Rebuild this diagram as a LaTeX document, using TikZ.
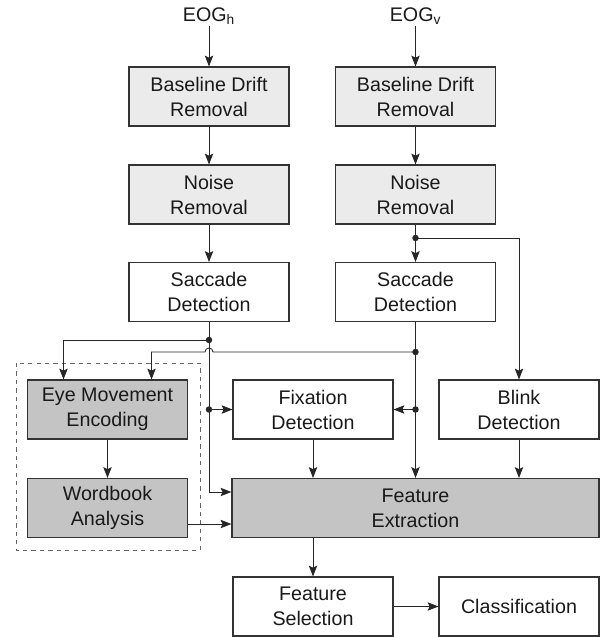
\documentclass[tikz,border=0pt]{standalone}
\usepackage{fontspec}
\setmainfont{Liberation Sans}
\usetikzlibrary{arrows.meta}

\begin{document}
\begin{tikzpicture}[
		x=0.025cm, y=-0.025cm,
		font=\fontsize{14}{17.8}\selectfont,
		box/.style={draw=black!80, line width=0.8pt, align=center, minimum width=4cm, minimum height=1.475cm, inner sep=0pt, text=black!90},
		light/.style={box, fill=black!8},
		dark/.style={box, fill=black!23},
		arr/.style={-{Stealth[length=2.7mm,width=2.1mm,inset=0.5mm]}, line width=0.6pt, draw=black!85},
		jdot/.style={fill=black!85}
	]
	\useasboundingbox (0,0) rectangle (606,637);

	\node[inner sep=1pt, text=black!90] (eogh) at (209,16) {EOG\textsubscript{h}};
	\node[inner sep=1pt, text=black!90] (eogv) at (415.5,16) {EOG\textsubscript{v}};

	\node[light] (bdh) at (209,96.5) {Baseline Drift\\Removal};
	\node[light] (bdv) at (415.5,96.5) {Baseline Drift\\Removal};
	\node[light] (nrh) at (209,194.5) {Noise\\Removal};
	\node[light] (nrv) at (415.5,194.5) {Noise\\Removal};
	\node[box] (sdh) at (209,292) {Saccade\\Detection};
	\node[box] (sdv) at (415.5,292) {Saccade\\Detection};

	\node[dark] (eme) at (107.5,409.5) {Eye Movement\\Encoding};
	\node[box] (fix) at (313,409.5) {Fixation\\Detection};
	\node[box] (blink) at (519,409.5) {Blink\\Detection};
	\node[dark] (wb) at (107.5,508) {Wordbook\\Analysis};
	\node[dark, minimum width=9.175cm] (fe) at (415.5,508) {Feature\\Extraction};
	\node[box] (fs) at (313,606.5) {Feature\\Selection};
	\node[box] (cls) at (519,606.5) {Classification};

	\draw[dashed, draw=black!60, line width=0.6pt] (16,363) rectangle (200,550);

	\coordinate (jh1) at (209,340);
	\coordinate (jh2) at (209,409.5);
	\coordinate (jv0) at (415.5,238);
	\coordinate (jv1) at (415.5,352);
	\coordinate (jv2) at (415.5,409.5);

	\draw[arr] (eogh) -- (bdh);
	\draw[arr] (eogv) -- (bdv);
	\draw[arr] (bdh) -- (nrh);
	\draw[arr] (bdv) -- (nrv);
	\draw[arr] (nrh) -- (sdh);
	\draw[arr] (nrv) -- (sdv);
	\draw[arr] (jv0) -| (blink.north);

	\draw[arr] (sdh.south) |- ([yshift=0.4cm]fe.west);
	\draw[arr] (jh1) -| ([xshift=-1.1cm]eme.north);
	\draw[arr] (jh2) -- (fix.west);

	\draw[arr] (sdv.south) -- (sdv.south |- fe.north);
	\draw[arr] (jv1) -- ([xshift=0.1cm]jv1 -| sdh.south) arc[start angle=0, end angle=180, radius=0.1cm] -| ([xshift=1.1cm]eme.north);
	\draw[arr] (jv2) -- (fix.east);

	\draw[arr] (fix) -- (fix |- fe.north);
	\draw[arr] (blink) -- (blink |- fe.north);
	\draw[arr] (eme) -- (wb);
	\draw[arr] ([yshift=-0.4cm]wb.east) -- ([yshift=-0.4cm]wb.east -| fe.west);
	\draw[arr] (fs |- fe.south) -- (fs);
	\draw[arr] (fs) -- (cls);

	\foreach \j in {jh1,jh2,jv0,jv1,jv2}
		\fill[jdot] (\j) circle (2.3pt);
\end{tikzpicture}
\end{document}
